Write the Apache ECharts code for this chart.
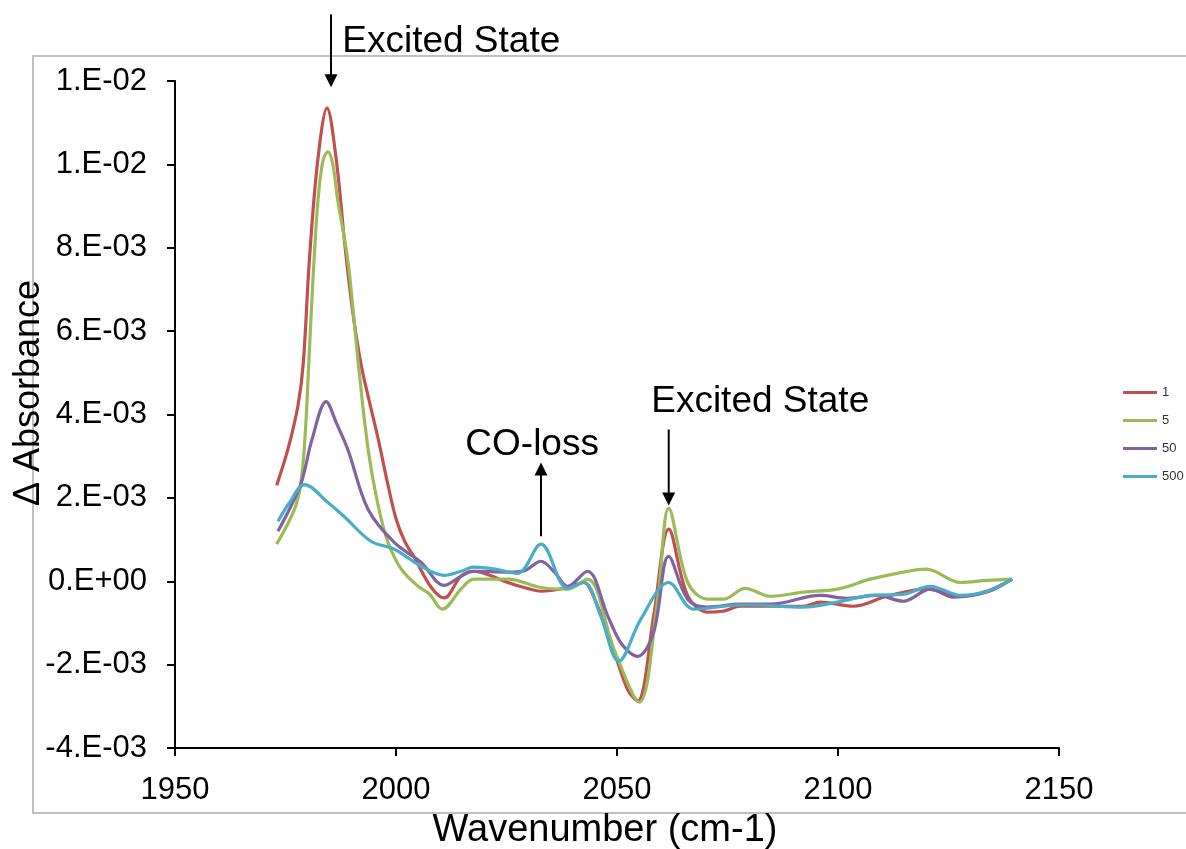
<!DOCTYPE html>
<html>
<head>
<meta charset="utf-8">
<script src="https://cdn.jsdelivr.net/npm/echarts@6/dist/echarts.min.js"></script>
<style>
html,body{margin:0;padding:0;background:#fff;}
#chart{width:1186px;height:849px;}
</style>
</head>
<body>
<div id="chart"></div>
<script>
// Values: [wavenumber (cm-1), ΔAbsorbance in units of 1e-3]
const seriesNames = ['1', '5', '50', '500'];
const s1 = [[1973,2.3],[1975.5,3.15],[1977.8,4.2],[1979,5.2],[1980.4,7.7],[1982.3,10.1],[1984.4,11.35],[1986.5,10.1],[1988.5,8.0],[1990.3,6.4],[1992.1,5.2],[1994,4.3],[1996,3.4],[1998,2.4],[2000,1.5],[2002,0.95],[2004,0.6],[2008,-0.15],[2010.9,-0.4],[2014.7,0.12],[2017.6,0.24],[2021,0.15],[2025.3,-0.03],[2029,-0.15],[2032.8,-0.24],[2038.8,-0.15],[2042.5,-0.03],[2044,-0.2],[2047.9,-1.22],[2052.4,-2.6],[2054.7,-2.87],[2058.3,-0.83],[2061.7,1.25],[2066,-0.35],[2070.5,-0.74],[2074,-0.72],[2078,-0.6],[2081,-0.6],[2092,-0.6],[2096,-0.5],[2103.5,-0.6],[2111,-0.36],[2120,-0.19],[2127.7,-0.36],[2133.7,-0.24],[2139.4,0.05]];
const s5 = [[1973,0.89],[1977,1.72],[1978.5,2.37],[1979.5,3.6],[1980.3,5.3],[1981.3,7.4],[1982.4,9.2],[1983.5,10.1],[1984.6,10.3],[1985.7,10.0],[1986.8,9.15],[1989.1,7.7],[1991.4,5.3],[1993.7,3.16],[1996,1.8],[1998.2,0.93],[2001.2,0.29],[2005,-0.12],[2007.5,-0.3],[2010.5,-0.67],[2014.7,-0.19],[2017.6,0.05],[2025.3,0.05],[2032.8,-0.15],[2038.8,-0.19],[2043.3,0.05],[2049.3,-1.63],[2055,-2.9],[2059.2,-0.43],[2061.7,1.75],[2066,-0.03],[2070.5,-0.43],[2074.1,-0.43],[2079,-0.17],[2084.7,-0.36],[2092.2,-0.26],[2099.8,-0.19],[2107.3,0.05],[2114.8,0.22],[2120,0.29],[2127.7,-0.03],[2133.7,0.02],[2139.4,0.05]];
const s50 = [[1973.3,1.2],[1976,1.75],[1978.6,2.37],[1981,3.4],[1984.2,4.31],[1986.5,3.8],[1989.1,3.16],[1993.7,1.72],[1999.6,0.93],[2005.7,0.45],[2010.9,-0.1],[2014.7,0.12],[2017.6,0.24],[2025.3,0.22],[2029,0.25],[2032.8,0.48],[2036,0.2],[2038.8,-0.12],[2043.3,0.24],[2047.9,-0.83],[2051,-1.5],[2054.7,-1.8],[2058.3,-1.22],[2061.7,0.6],[2066,-0.43],[2070.5,-0.62],[2078,-0.55],[2084.7,-0.55],[2096,-0.34],[2102,-0.41],[2108.8,-0.34],[2114.8,-0.48],[2120.9,-0.19],[2126.1,-0.38],[2133.7,-0.26],[2139.4,0.05]];
const s500 = [[1973.3,1.44],[1976,1.9],[1979.3,2.32],[1984.6,1.89],[1988.2,1.56],[1994.3,0.96],[1999.6,0.77],[2005.7,0.36],[2010.9,0.14],[2014.7,0.24],[2017.6,0.34],[2022,0.3],[2027.5,0.19],[2032.8,0.89],[2038.8,-0.17],[2042.5,-0.03],[2046.3,-0.83],[2050.4,-1.92],[2055.4,-0.91],[2061.7,-0.03],[2067.4,-0.67],[2078,-0.57],[2081,-0.57],[2092,-0.62],[2099.8,-0.5],[2107.3,-0.34],[2114.8,-0.31],[2120.9,-0.12],[2127.7,-0.34],[2133.7,-0.24],[2139.4,0.05]];
const yTickLabels = ['-4.E-03','-2.E-03','0.E+00','2.E-03','4.E-03','6.E-03','8.E-03','1.E-02','1.E-02'];
const xTickLabels = ['1950','2000','2050','2100','2150'];
// Annotation arrows: wavenumber, arrow start / tip (1e-3 units)
const annotations = [
  {x:1985.3, arrowFrom:13.6, arrowTo:11.85},
  {x:2032.8, arrowFrom:1.08, arrowTo:2.85},
  {x:2061.7, arrowFrom:3.64, arrowTo:1.82}
];
// Annotation texts: centre position in data units
const annoText = [
  {text:'Excited State', x:2012.5, y:12.95},
  {text:'CO-loss', x:2030.8, y:3.28},
  {text:'Excited State', x:2082.4, y:4.3}
];

const colors = ['#C0504D', '#9BBB59', '#8064A2', '#4BACC6'];
const allSeries = [s1, s5, s50, s500];
const FONT = '"Liberation Sans", Arial, sans-serif';

const chart = echarts.init(document.getElementById('chart'), null, {renderer:'canvas'});
const option = {
  animation: false,
  backgroundColor: '#fff',
  grid: {left:175, right:127, top:81, bottom:101, containLabel:false, outerBoundsMode:'none'},
  xAxis: {
    type:'value', min:1950, max:2150, interval:50,
    name:'Wavenumber (cm-1)', nameLocation:'middle', nameGap:64,
    nameTextStyle:{fontFamily:FONT, fontSize:38, color:'#000', padding:[0,24,0,0]},
    axisLine:{show:true, onZero:false, lineStyle:{color:'#000', width:2}},
    axisTick:{show:true, length:8, lineStyle:{color:'#000', width:2}},
    axisLabel:{fontFamily:FONT, fontSize:31, color:'#000', margin:27,
      formatter: v => { const i = Math.round((v-1950)/50); return xTickLabels[i] ?? ''; }},
    splitLine:{show:false}
  },
  yAxis: {
    type:'value', min:-0.004, max:0.012, interval:0.002,
    axisLine:{show:true, onZero:false, lineStyle:{color:'#000', width:2}},
    axisTick:{show:true, length:8, lineStyle:{color:'#000', width:2}},
    axisLabel:{fontFamily:FONT, fontSize:31, color:'#000', margin:28,
      formatter: v => { const i = Math.round((v+0.004)/0.002); return yTickLabels[i] ?? ''; }},
    splitLine:{show:false}
  },
  legend: {
    orient:'vertical', left:1118, top:381, itemGap:15,
    icon:'rect', itemWidth:34, itemHeight:3,
    textStyle:{fontFamily:FONT, fontSize:13, color:'#333', lineHeight:13},
    data: seriesNames
  },
  series: allSeries.map((arr, i) => ({
    name: seriesNames[i], type:'line', smooth:0.35, showSymbol:false, symbol:'none',
    lineStyle:{width:3.2, color:colors[i]}, itemStyle:{color:colors[i]},
    data: arr.map(p => [p[0], p[1]*1e-3])
  }))
};
chart.setOption(option);

function px(x, y) { return chart.convertToPixel({gridIndex:0}, [x, y*1e-3]); }
const graphics = [
  {type:'rect', shape:{x:33, y:56, width:1200, height:757}, style:{fill:'none', stroke:'#c0c0c0', lineWidth:2}, z:-10, silent:true},
  {type:'text', x:29, y:393, rotation:Math.PI/2, style:{text:'\u0394 Absorbance', font:'36px ' + FONT, fill:'#000', textAlign:'center', textVerticalAlign:'middle'}, z:10}
];
annotations.forEach(a => {
  const p0 = px(a.x, a.arrowFrom), p1 = px(a.x, a.arrowTo);
  const dir = p1[1] > p0[1] ? 1 : -1;
  const head = 13, hw = 6.5;
  graphics.push({type:'line', shape:{x1:p0[0], y1:p0[1], x2:p1[0], y2:p1[1]-dir*head+dir*1}, style:{stroke:'#000', lineWidth:2}, z:10});
  graphics.push({type:'polygon', shape:{points:[[p1[0], p1[1]], [p1[0]-hw, p1[1]-dir*head], [p1[0]+hw, p1[1]-dir*head]]}, style:{fill:'#000'}, z:10});
});
annoText.forEach(t => {
  const p = px(t.x, t.y);
  graphics.push({type:'text', x:p[0], y:p[1], style:{text:t.text, font:'37px ' + FONT, fill:'#000', textAlign:'center', textVerticalAlign:'middle'}, z:10});
});
chart.setOption({graphic: graphics});
</script>
</body>
</html>
